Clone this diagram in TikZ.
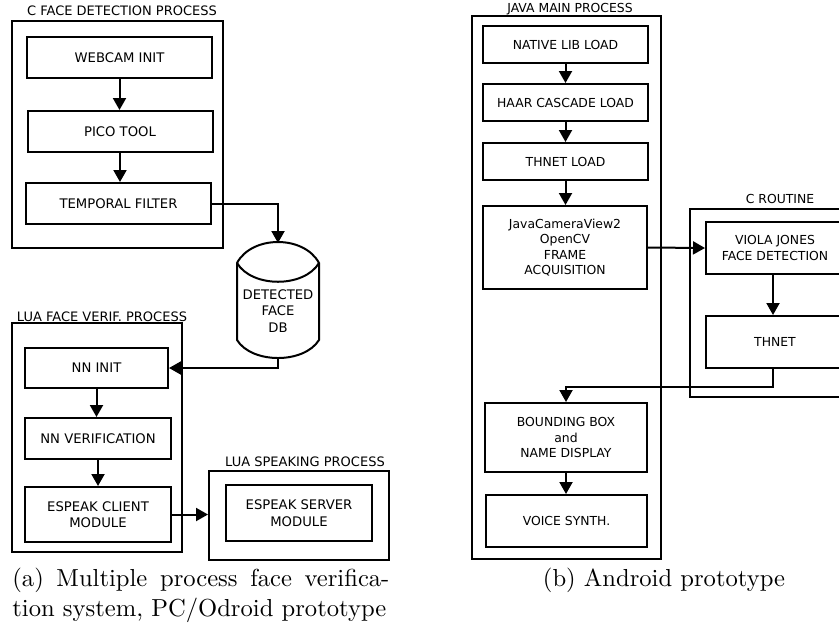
\documentclass[tikz,border=0pt]{standalone}
\usepackage{fontspec}
\setsansfont{DejaVu Sans}
\newfontfamily\capfont{lmroman10-regular.otf}
\usepackage{tikz}
\usetikzlibrary{arrows.meta, positioning, fit}

\begin{document}
\begin{tikzpicture}[
  x=0.5pt, y=-0.5pt,
  blk/.style={draw, line width=1pt, inner sep=1pt, align=center, font=\sffamily\fontsize{6.6}{8.2}\selectfont},
  cbox/.style={blk, minimum width=92.5pt, minimum height=20.5pt},
  lbox/.style={blk, minimum width=73pt, minimum height=20.5pt},
  jbox/.style={blk, minimum width=82.5pt, minimum height=18.5pt, font=\sffamily\fontsize{6.2}{7.7}\selectfont},
  rbox/.style={jbox, minimum width=69pt, minimum height=26pt},
  grp/.style={draw, line width=1pt, inner sep=0pt},
  ttl/.style={inner sep=0pt, font=\sffamily\fontsize{6.5}{8}\selectfont},
  capt/.style={inner sep=0pt, font=\capfont\fontsize{12.3}{15}\selectfont},
  arr/.style={-{Triangle[length=6pt, width=6.5pt]}, line width=1pt}
]
\clip (0,0) rectangle (839,628);

% (a) PC / Odroid prototype
\node[grp, fit={(12,21) (223,248)}] (cface) {};
\node[ttl] (cfacettl) at (122,11) {C FACE DETECTION PROCESS};
\node[cbox] (webcam) at (119.5,57.5) {WEBCAM INIT};
\node[cbox] (pico) at (120,131.5) {PICO TOOL};
\node[cbox] (tfilter) at (118.5,203.5) {TEMPORAL FILTER};

% face database
\coordinate (dbtop) at (278,243);
\coordinate (dbbot) at (278,358);
\draw[line width=1pt] (237,263) .. controls (252,235) and (304,235) .. (319,263)
  -- (319,340) .. controls (304,364) and (252,364) .. (237,340) -- cycle;
\draw[line width=1pt] (237,263) .. controls (252,288) and (304,288) .. (319,263);
\node[blk, draw=none] (db) at (278,311) {DETECTED\\FACE\\DB};

\node[grp, fit={(12,323) (182,552)}] (luaface) {};
\node[ttl] (luafacettl) at (102,316.5) {LUA FACE VERIF. PROCESS};
\node[lbox, minimum width=71.5pt, minimum height=20pt] (nninit) at (96.5,368) {NN INIT};
\node[lbox] (nnver) at (98,438.5) {NN VERIFICATION};
\node[lbox, minimum height=27.5pt] (eclient) at (98,514.5) {ESPEAK CLIENT\\MODULE};

\node[grp, fit={(209,471) (389,560)}] (speak) {};
\node[ttl] (speakttl) at (305,462) {LUA SPEAKING PROCESS};
\node[lbox, minimum height=28pt] (eserver) at (299,513) {ESPEAK SERVER\\MODULE};

% (b) Android prototype
\node[grp, fit={(472,16) (661,559)}] (java) {};
\node[ttl, font=\sffamily\fontsize{6.2}{7.7}\selectfont] (javattl) at (570,9.5) {JAVA MAIN PROCESS};
\node[jbox] (native) at (565.5,44.5) {NATIVE LIB LOAD};
\node[jbox] (haar) at (565.5,102.5) {HAAR CASCADE LOAD};
\node[jbox] (thload) at (565.5,161.5) {THNET LOAD};
\node[jbox, minimum width=82pt, minimum height=41.5pt] (jcv) at (565,247.5) {JavaCameraView2\\OpenCV\\FRAME\\ACQUISITION};
\node[jbox, minimum width=81pt, minimum height=34.5pt] (bbox) at (566,437.5) {BOUNDING BOX\\and\\NAME DISPLAY};
\node[jbox, minimum width=80.5pt, minimum height=26pt] (voice) at (566.5,521) {VOICE SYNTH.};

\node[grp, fit={(690,209) (870,397)}] (croutine) {};
\node[ttl, font=\sffamily\fontsize{6.2}{7.7}\selectfont] (croutinettl) at (780,199) {C ROUTINE};
\node[rbox] (viola) at (775,248) {VIOLA JONES\\FACE DETECTION};
\node[rbox] (thnet) at (775,342) {THNET};
\coordinate (cx) at (773,0);

% connectors
\foreach \a/\b in {webcam/pico, pico/tfilter, nninit/nnver, nnver/eclient,
                   native/haar, haar/thload, thload/jcv, bbox/voice}
  \draw[arr] (\a.south) -- (\a.south |- \b.north);
\draw[arr] (viola.south -| cx) -- (thnet.north -| cx);
\draw[arr] (tfilter.east) -| (dbtop);
\draw[arr] (dbbot) |- (nninit.east);
\draw[arr] (eclient.east) -- (eclient.east -| speak.west);
\draw[arr] (jcv.east) -- (viola.west);
\draw[arr] (thnet.south -| cx) -- ++(0,18) -| (bbox.north);

% captions
\node[capt, text width=188.5pt, align=justify, anchor=base west] (capa) at (12,586)
  {(a) Multiple process face verifica-\linebreak tion system, PC/Odroid prototype};
\node[capt, anchor=base] (capb) at (664,586) {(b) Android prototype};
\end{tikzpicture}
\end{document}
